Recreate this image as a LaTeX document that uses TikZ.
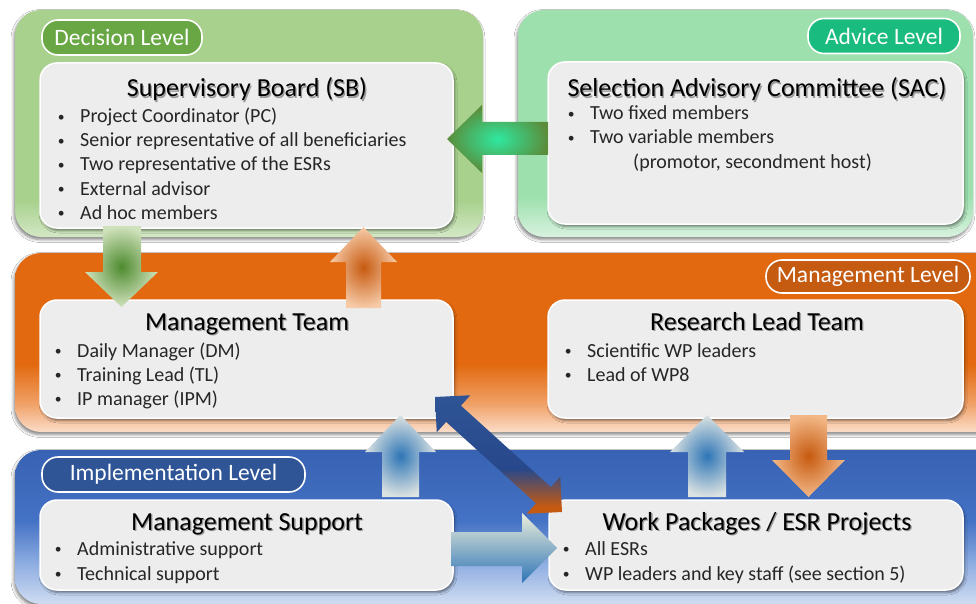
\documentclass[tikz,border=0pt]{standalone}
\usepackage{fontspec}
\setmainfont{Carlito}
\usetikzlibrary{shadows.blur}

\definecolor{decT}{HTML}{A9D18E}
\definecolor{decB}{HTML}{D3E8C5}
\definecolor{advT}{HTML}{9DE0AD}
\definecolor{advB}{HTML}{D8F2DF}
\definecolor{orT}{HTML}{E2690F}
\definecolor{orM}{HTML}{F0A066}
\definecolor{orB}{HTML}{FBDDC9}
\definecolor{blT}{HTML}{3862B4}
\definecolor{blM}{HTML}{4472C4}
\definecolor{blL}{HTML}{8AAAE0}
\definecolor{blB}{HTML}{D0DDF2}
\definecolor{boxfill}{HTML}{EDEDED}
\definecolor{bodytext}{HTML}{262626}
\definecolor{pillG}{HTML}{69A745}
\definecolor{pillA}{HTML}{1ABB7E}
\definecolor{pillO}{HTML}{C55A11}
\definecolor{pillB}{HTML}{2F5597}
\definecolor{agIn}{HTML}{4E8B2F}
\definecolor{agOut}{HTML}{D0E2BC}
\definecolor{aoIn}{HTML}{C65A10}
\definecolor{aoOut}{HTML}{F7CBA8}
\definecolor{aoOut2}{HTML}{F3B887}
\definecolor{abIn}{HTML}{2E75B6}
\definecolor{abOut}{HTML}{DCE3E2}
\definecolor{amIn}{HTML}{2FE8A0}
\definecolor{amOut}{HTML}{5B8C3A}
\definecolor{arTop}{HTML}{ECEEDC}
\definecolor{arBot}{HTML}{2E75B6}
\definecolor{dgBlue}{HTML}{2F5597}
\definecolor{dgBlue2}{HTML}{27488A}
\definecolor{dgOr}{HTML}{C55A11}

\pgfdeclareverticalshading{decshade}{100bp}{color(0bp)=(decB); color(25bp)=(decB); color(33bp)=(decT); color(100bp)=(decT)}
\pgfdeclareverticalshading{advshade}{100bp}{color(0bp)=(advB); color(25bp)=(advB); color(34bp)=(advT); color(100bp)=(advT)}
\pgfdeclareverticalshading{orshade}{100bp}{color(0bp)=(orB); color(25bp)=(orB); color(33bp)=(orM); color(44bp)=(orT); color(100bp)=(orT)}
\pgfdeclareverticalshading{blshade}{100bp}{color(0bp)=(blB); color(25bp)=(blB); color(39bp)=(blL); color(52bp)=(blM); color(75bp)=(blT); color(100bp)=(blT)}
\pgfdeclareverticalshading{diagshade}{100bp}{color(0bp)=(dgOr); color(28bp)=(dgOr); color(44bp)=(dgBlue2); color(75bp)=(dgBlue); color(100bp)=(dgBlue)}

\newcommand\ttlfont{\fontsize{26}{31}\selectfont}
\newcommand\bdyfont{\fontsize{20}{24}\selectfont}
\newcommand\pllfont{\fontsize{23.5}{28}\selectfont}
\newcommand\shtxt[1]{\makebox[0pt][l]{\hspace{1.3pt}\raisebox{-1.4pt}{\textcolor{black!40}{#1}}}#1}
\newcommand\bul{\makebox[0pt][r]{\raisebox{1.6pt}{\scalebox{0.68}{\textbullet}}\hspace{15.5pt}}}

\begin{document}
\begin{tikzpicture}[x=1pt,y=-1pt,
  panel/.style={rectangle, rounded corners=26pt, inner sep=0pt,
    blur shadow={shadow xshift=-1pt, shadow yshift=-2.5pt, shadow blur radius=3pt, shadow opacity=50}},
  pill/.style={rectangle, rounded corners=16pt, draw=white, line width=1.6pt,
    inner sep=0pt, text=white, font=\pllfont},
  box/.style={rectangle, rounded corners=17pt, draw=white, line width=1.5pt,
    fill=boxfill, inner sep=0pt,
    blur shadow={shadow xshift=1.5pt, shadow yshift=-2.5pt, shadow blur radius=2.5pt, shadow opacity=50}},
  ttl/.style={anchor=base, inner sep=0pt, font=\ttlfont, text=black},
  item/.style={anchor=base west, inner sep=0pt, font=\bdyfont, text=bodytext},
  blockarrow/.style={shade}
]
\useasboundingbox (0,0) rectangle (976,604);
\clip (0,0) rectangle (976,604);
\fill[white] (0,0) rectangle (976,604);

% level panels
\node[panel, shade, shading=decshade, minimum width=468pt, minimum height=227pt] (decP) at (249,123.5) {};
\node[panel, shade, shading=advshade, minimum width=455pt, minimum height=227pt] (advP) at (745.5,123.5) {};
\node[panel, shade, shading=orshade, minimum width=990pt, minimum height=179pt] (mgtP) at (510,342.5) {};
\node[panel, shade, shading=blshade, minimum width=990pt, minimum height=154pt] (impP) at (510,527) {};

% level labels
\node[pill, fill=pillG, minimum width=160pt, minimum height=35pt] (decL) at (122,37.5) {Decision Level};
\node[pill, fill=pillA, minimum width=152pt, minimum height=35pt] (advL) at (884,36) {Advice Level};
\node[pill, fill=pillO, minimum width=204pt, minimum height=33pt] (mgtL) at (868,276.5) {Management Level};
\node[pill, fill=pillB, minimum width=263pt, minimum height=35pt] (impL) at (173.5,474.5) {Implementation Level};

% inner boxes
\node[box, minimum width=413pt, minimum height=165pt] (sb) at (246.5,145.5) {};
\node[box, minimum width=415pt, minimum height=162pt] (sac) at (755.5,143) {};
\node[box, minimum width=413pt, minimum height=118pt] (mt) at (246.5,359) {};
\node[box, minimum width=415pt, minimum height=118pt] (rlt) at (755.5,359) {};
\node[box, minimum width=413pt, minimum height=90pt] (ms) at (246.5,545) {};
\node[box, minimum width=414pt, minimum height=90pt] (wp) at (756,545) {};

% titles
\node[ttl] (sbT) at (247,97) {\shtxt{Supervisory Board (SB)}};
\node[ttl] (sacT) at (757,97) {\shtxt{Selection Advisory Committee (SAC)}};
\node[ttl] (mtT) at (247,330) {\shtxt{Management Team}};
\node[ttl] (rltT) at (757,330) {\shtxt{Research Lead Team}};
\node[ttl] (msT) at (247,530) {\shtxt{Management Support}};
\node[ttl] (wpT) at (757,530) {\shtxt{Work Packages / ESR Projects}};

% items
\foreach \t [count=\i] in {{Project Coordinator (PC)},{Senior representative of all beneficiaries},{Two representative of the ESRs},{External advisor},{Ad hoc members}}
  \node[item] (sb\i) at (80,{123+24*(\i-1)}) {\bul\t};
\node[item] (sac1) at (590,120) {\bul Two fixed members};
\node[item] (sac2) at (590,144) {\bul Two variable members};
\node[item] (sac3) at (633,168) {(promotor, secondment host)};
\foreach \t [count=\i] in {{Daily Manager (DM)},{Training Lead (TL)},{IP manager (IPM)}}
  \node[item] (mt\i) at (77,{357+24*(\i-1)}) {\bul\t};
\node[item] (rlt1) at (587,357) {\bul Scientific WP leaders};
\node[item] (rlt2) at (587,381) {\bul Lead of WP8};
\node[item] (ms1) at (77,555) {\bul Administrative support};
\node[item] (ms2) at (77,580) {\bul Technical support};
\node[item] (wp1) at (585,555) {\bul All ESRs};
\node[item] (wp2) at (585,580) {\bul WP leaders and key staff (see section 5)};

% block arrows
% SAC -> SB
\path[blockarrow, inner color=amIn, outer color=amOut]
  (447,139) -- (482,105) -- (482,122) -- (548,122) -- (548,155) -- (482,155) -- (482,173) -- cycle;
% SB -> MT
\path[blockarrow, inner color=agIn, outer color=agOut]
  (103,226) -- (141,226) -- (141,272) -- (158,272) -- (121.5,307) -- (85,272) -- (103,272) -- cycle;
% MT -> SB
\path[blockarrow, inner color=aoIn, outer color=aoOut]
  (363.5,227) -- (397,262) -- (381,262) -- (381,308) -- (346,308) -- (346,262) -- (330,262) -- cycle;
% MS -> MT
\path[blockarrow, inner color=abIn, outer color=abOut]
  (400.5,415) -- (436,452) -- (419,452) -- (419,497) -- (382,497) -- (382,452) -- (365,452) -- cycle;
% WP -> RLT
\path[blockarrow, inner color=abIn, outer color=abOut]
  (707,415) -- (744,452) -- (726,452) -- (726,497) -- (688,497) -- (688,452) -- (670,452) -- cycle;
% RLT -> WP
\path[blockarrow, inner color=aoIn, outer color=aoOut2]
  (790,415) -- (827,415) -- (827,460) -- (845,460) -- (808.5,497) -- (772,460) -- (790,460) -- cycle;
% MS -> WP
\path[blockarrow, top color=arTop, bottom color=arBot]
  (451,532) -- (522,532) -- (522,513) -- (557,548) -- (522,583) -- (522,566) -- (451,566) -- cycle;
% MT <-> WP
\path[blockarrow, shading=diagshade]
  (435,397) -- (436.75,432.31) -- (446.15,421.93) -- (536.09,503.37) -- (526.69,513.75)
  -- (562,512) -- (560.25,476.69) -- (550.85,487.07) -- (460.91,405.63) -- (470.31,395.25) -- cycle;
\end{tikzpicture}
\end{document}
